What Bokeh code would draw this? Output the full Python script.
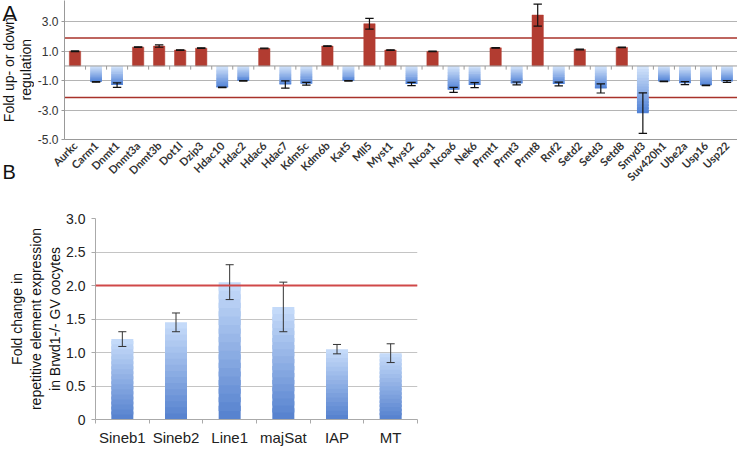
import math
from bokeh.plotting import figure
from bokeh.models import Range1d, FixedTicker, Span, NumeralTickFormatter, Title
from bokeh.core.properties import value
from bokeh.layouts import column, row
from bokeh.embed import file_html
from bokeh.resources import INLINE

# ---------------- data (panel A) ----------------
genes = ["Aurkc", "Carm1", "Dnmt1", "Dnmt3a", "Dnmt3b", "Dot1l", "Dzip3", "Hdac10",
         "Hdac2", "Hdac6", "Hdac7", "Kdm5c", "Kdm6b", "Kat5", "Mll5", "Myst1",
         "Myst2", "Ncoa1", "Ncoa6", "Nek6", "Prmt1", "Prmt3", "Prmt8", "Rnf2",
         "Setd2", "Setd3", "Setd8", "Smyd3", "Suv420h1", "Ube2a", "Usp16", "Usp22"]
gene_fold = [1.0, -1.08, -1.30, 1.28, 1.35, 1.08, 1.21, -1.46,
             -1.01, 1.19, -1.26, -1.21, 1.35, -1.01, 2.87, 1.08,
             -1.23, 0.99, -1.62, -1.30, 1.23, -1.19, 3.46, -1.23,
             1.12, -1.53, 1.26, -3.21, -1.05, -1.17, -1.32, -1.05]
gene_err = [0.02, 0.02, 0.15, 0.02, 0.08, 0.02, 0.02, 0.02,
            0.02, 0.02, 0.25, 0.10, 0.02, 0.02, 0.37, 0.02,
            0.11, 0.02, 0.17, 0.17, 0.02, 0.10, 0.75, 0.13,
            0.02, 0.31, 0.02, 1.38, 0.02, 0.10, 0.02, 0.06]
a_ticks = [-5, -3, -1, 1, 3]
up_threshold = 1.9
down_threshold = -2.15

# ---------------- data (panel B) ----------------
elements = ["Sineb1", "Sineb2", "Line1", "majSat", "IAP", "MT"]
elem_fold = [1.20, 1.45, 2.05, 1.68, 1.05, 0.99]
elem_err = [0.11, 0.14, 0.26, 0.37, 0.07, 0.14]
b_ticks = [0, 0.5, 1.0, 1.5, 2.0, 2.5, 3.0]
b_threshold = 2.0

FONT = "Liberation Sans"
HA, HB = 202, 246
TA_W = 34
A_BOTTOM, A_TOP = -5.0, 4.45


def hexc(c):
    return "#%02x%02x%02x" % tuple(int(round(v)) for v in c)


def gradient(xs, vals, half_w, c0, c1, n=16):
    # each bar split into n overlapping bands whose colour runs from c0 (at 0) to c1 (bar end)
    d = dict(left=[], right=[], bottom=[], top=[], color=[])
    for x, v in zip(xs, vals):
        for k in range(n):
            t0 = k / n
            t1 = min(1.0, (k + 1.6) / n)
            tm = (k + 0.5) / n
            d["left"].append(x - half_w)
            d["right"].append(x + half_w)
            d["bottom"].append(v * t0)
            d["top"].append(v * t1)
            d["color"].append(hexc([a + (b - a) * tm for a, b in zip(c0, c1)]))
    return d


# ================= Panel A =================
nA = len(genes)
xa = [i + 0.5 for i in range(nA)]
a_yrange = Range1d(A_BOTTOM, A_TOP)
pA = figure(width=737 - TA_W, height=HA, x_range=Range1d(0, nA), y_range=a_yrange,
            output_backend="svg", toolbar_location=None,
            min_border_left=29, min_border_right=0, min_border_top=0, min_border_bottom=0)
pA.outline_line_color = None
pA.xgrid.grid_line_color = None
pA.ygrid.ticker = FixedTicker(ticks=a_ticks)
pA.ygrid.grid_line_color = "#b4b4b4"

pA.add_layout(Span(location=up_threshold, dimension="width", line_color="#a8322a",
                   line_width=1.5, level="underlay"))
pA.add_layout(Span(location=down_threshold, dimension="width", line_color="#a8322a",
                   line_width=1.5, level="underlay"))

pos_x = [x for x, v in zip(xa, gene_fold) if v > 0]
pos_v = [v for v in gene_fold if v > 0]
neg_x = [x for x, v in zip(xa, gene_fold) if v < 0]
neg_v = [v for v in gene_fold if v < 0]
pA.vbar(x=pos_x, top=pos_v, bottom=0, width=0.54, fill_color="#b23c31", line_color="#b23c31",
        line_width=0.5)
dneg = gradient(neg_x, neg_v, 0.28, (214, 230, 251), (78, 128, 214))
pA.quad(left="left", right="right", bottom="bottom", top="top", source=dneg,
        fill_color="color", line_color=None)

pA.add_layout(Span(location=0, dimension="width", line_color="#9a9a9a", line_width=1))
pA.segment(x0=list(range(1, nA)), x1=list(range(1, nA)), y0=[0] * (nA - 1),
           y1=[-0.25] * (nA - 1), line_color="#9a9a9a", line_width=1)

lo = [v - e for v, e in zip(gene_fold, gene_err)]
hi = [v + e for v, e in zip(gene_fold, gene_err)]
pA.segment(x0=xa, x1=xa, y0=lo, y1=hi, line_color="#111111", line_width=1.2)
pA.segment(x0=[x - 0.2 for x in xa], x1=[x + 0.2 for x in xa], y0=lo, y1=lo,
           line_color="#111111", line_width=1.2)
pA.segment(x0=[x - 0.2 for x in xa], x1=[x + 0.2 for x in xa], y0=hi, y1=hi,
           line_color="#111111", line_width=1.2)

ya = pA.yaxis[0]
ya.ticker = FixedTicker(ticks=a_ticks)
ya.formatter = NumeralTickFormatter(format="0.0")
ya.axis_line_color = "#999999"
ya.major_tick_line_color = "#999999"
ya.major_tick_out = 3
ya.major_tick_in = 0
ya.minor_tick_line_color = None
ya.major_label_text_font = FONT
ya.major_label_text_font_size = "12px"
ya.major_label_text_color = "#333333"
ya.major_label_standoff = 3
ya.axis_label_standoff = 0

xax = pA.xaxis[0]
xax.ticker = FixedTicker(ticks=xa)
xax.major_label_overrides = {x: g for x, g in zip(xa, genes)}
xax.major_label_orientation = math.pi / 4
xax.axis_line_color = "#999999"
xax.major_tick_line_color = None
xax.major_tick_out = 0
xax.major_tick_in = 0
xax.minor_tick_line_color = None
xax.major_label_text_font = "Lato"
xax.major_label_text_font_style = "bold"
xax.major_label_text_font_size = "11px"
xax.major_label_text_color = "#333333"
xax.major_label_standoff = 4
xax.axis_label_standoff = 0

# left text column for panel A (shares panel A's vertical scale)
tA = figure(width=TA_W, height=HA, x_range=Range1d(0, TA_W), y_range=a_yrange,
            x_axis_type=None, y_axis_type=None, output_backend="svg",
            toolbar_location=None, min_border=0)
tA.outline_line_color = None
tA.grid.visible = False


def put(t, x, y, s, size, angle=0.0, align="center", baseline="middle"):
    t.text(x=[x], y=[y], text=[s], angle=angle, text_align=align, text_baseline=baseline,
           text_font=value(FONT), text_font_size=value(size), text_color="#111111")


put(tA, 2, A_TOP, "A", "22px", align="left", baseline="top")
put(tA, 8.5, -0.25, "Fold up- or down", "14px", angle=math.pi / 2)
put(tA, 25.5, -0.25, "regulation", "14px", angle=math.pi / 2)

# panel letter B, sitting under panel A's text column
tA.add_layout(Title(text="B", align="left", offset=2, text_font=FONT,
                    text_font_size="20px", text_font_style="normal",
                    text_color="#111111", standoff=39), "below")

# ================= Panel B =================
nB = len(elements)
xb = [i + 0.5 for i in range(nB)]
pB = figure(width=420, height=HB, x_range=Range1d(0, nB), y_range=Range1d(0, 3.0),
            output_backend="svg", toolbar_location=None,
            min_border_left=95, min_border_right=3, min_border_top=16, min_border_bottom=10)
pB.outline_line_color = None
pB.xgrid.grid_line_color = None
pB.ygrid.ticker = FixedTicker(ticks=b_ticks)
pB.ygrid.grid_line_color = "#c4c4c4"

db = gradient(xb, elem_fold, 0.205, (84, 128, 206), (200, 221, 250))
pB.quad(left="left", right="right", bottom="bottom", top="top", source=db,
        fill_color="color", line_color=None)

pB.add_layout(Span(location=b_threshold, dimension="width", line_color="#d04848",
                   line_width=1.8))

lob = [v - e for v, e in zip(elem_fold, elem_err)]
hib = [v + e for v, e in zip(elem_fold, elem_err)]
pB.segment(x0=xb, x1=xb, y0=lob, y1=hib, line_color="#333333", line_width=1)
pB.segment(x0=[x - 0.075 for x in xb], x1=[x + 0.075 for x in xb], y0=lob, y1=lob,
           line_color="#333333", line_width=1)
pB.segment(x0=[x - 0.075 for x in xb], x1=[x + 0.075 for x in xb], y0=hib, y1=hib,
           line_color="#333333", line_width=1)

yb = pB.yaxis[0]
yb.ticker = FixedTicker(ticks=b_ticks)
yb.formatter = NumeralTickFormatter(format="0.0")
yb.major_label_overrides = {0: "0"}
yb.axis_line_color = "#aaaaaa"
yb.major_tick_line_color = "#aaaaaa"
yb.major_tick_out = 4
yb.major_tick_in = 0
yb.minor_tick_line_color = None
yb.major_label_text_font = FONT
yb.major_label_text_font_size = "14px"
yb.major_label_text_color = "#222222"
yb.major_label_standoff = 6
yb.axis_label_standoff = 0

xbx = pB.xaxis[0]
xbx.ticker = FixedTicker(ticks=xb, minor_ticks=list(range(nB + 1)))
xbx.major_label_overrides = {x: e for x, e in zip(xb, elements)}
xbx.axis_line_color = "#aaaaaa"
xbx.major_tick_line_color = None
xbx.minor_tick_line_color = "#aaaaaa"
xbx.minor_tick_out = 4
xbx.minor_tick_in = 0
xbx.major_label_text_font = FONT
xbx.major_label_text_font_size = "15px"
xbx.major_label_text_color = "#222222"
xbx.major_label_standoff = 3
xbx.axis_label_standoff = 0

# y-axis title of panel B: three stacked lines (first added sits next to the axis)
for line in ["in Brwd1-/- GV oocytes", "repetitive element expression", "Fold change in"]:
    pB.add_layout(Title(text=line, align="center", text_font=FONT, text_font_size="14px",
                        text_font_style="normal", text_color="#111111", standoff=1),
                  "left")

layout = column(row(tA, pA, spacing=0), pB, spacing=0)
open("out.html", "w").write(file_html(layout, INLINE))
